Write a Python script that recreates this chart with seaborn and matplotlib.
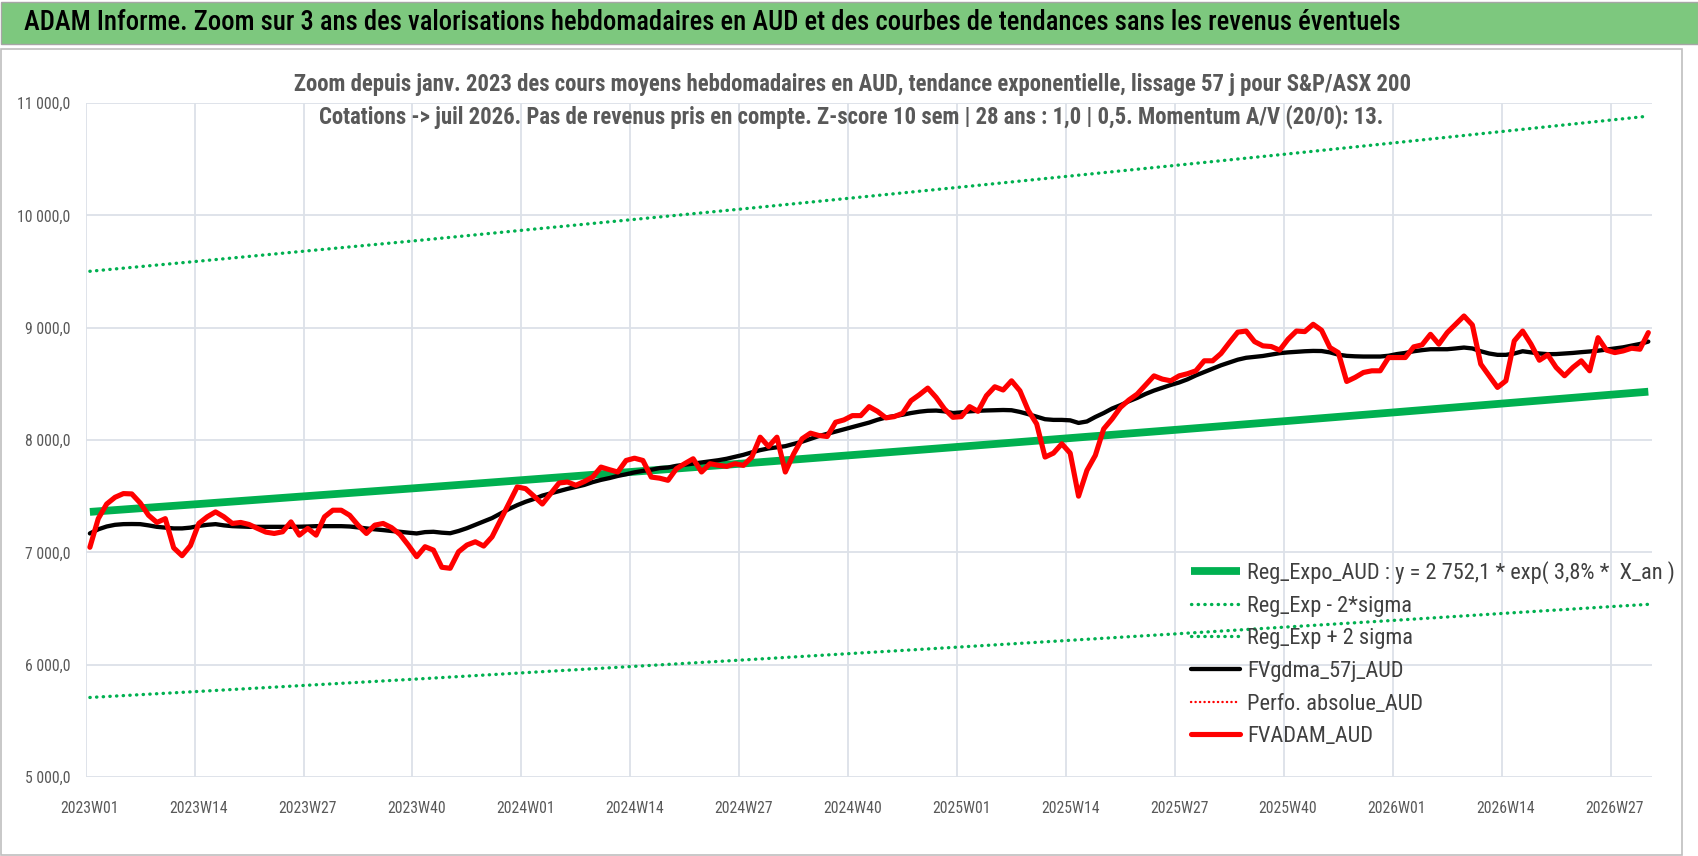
import numpy as np
import pandas as pd
import seaborn as sns
import matplotlib
matplotlib.use("Agg")
import matplotlib.pyplot as plt
from matplotlib import font_manager as fm
from matplotlib.patches import Rectangle
from matplotlib.ticker import FixedLocator, FuncFormatter

# ---------------- data ----------------
title = ("ADAM Informe. Zoom sur 3 ans des valorisations hebdomadaires en AUD "
         "et des courbes de tendances sans les revenus éventuels")
subtitle1 = ("Zoom depuis janv. 2023 des cours moyens hebdomadaires en AUD, "
             "tendance exponentielle, lissage 57 j pour S&P/ASX 200")
subtitle2 = ("Cotations -> juil 2026. Pas de revenus pris en compte. "
             "Z-score 10 sem | 28 ans : 1,0 | 0,5. Momentum A/V (20/0): 13.")

tick_labels = ["2023W01", "2023W14", "2023W27", "2023W40", "2024W01", "2024W14",
               "2024W27", "2024W40", "2025W01", "2025W14", "2025W27", "2025W40",
               "2026W01", "2026W14", "2026W27"]
tick_weeks = [0, 13, 26, 39, 52, 65, 78, 91, 104, 117, 130, 143, 156, 169, 182]

fvadam_aud = [
    7045, 7300, 7430, 7490, 7523, 7520, 7440, 7330, 7266, 7300,
    7040, 6970, 7060, 7257, 7316, 7360, 7316, 7257, 7266, 7248,
    7213, 7180, 7168, 7183, 7271, 7153, 7213, 7153, 7316, 7375,
    7375, 7330, 7242, 7168, 7242, 7257, 7220, 7160, 7065, 6961,
    7050, 7020, 6867, 6858, 7005, 7065, 7094, 7056, 7138, 7286,
    7434, 7582, 7567, 7500, 7430, 7523, 7617, 7626, 7597, 7630,
    7670, 7759, 7736, 7715, 7818, 7838, 7818, 7670, 7660, 7641,
    7744, 7790, 7833, 7715, 7789, 7775, 7765, 7789, 7774, 7848,
    8025, 7942, 8025, 7715, 7877, 8011, 8061, 8040, 8031, 8158,
    8179, 8217, 8217, 8297, 8255, 8197, 8208, 8238, 8350, 8403,
    8462, 8379, 8276, 8202, 8208, 8297, 8255, 8394, 8474, 8445,
    8527, 8438, 8262, 8143, 7848, 7883, 7966, 7883, 7500, 7730,
    7863, 8099, 8187, 8290, 8356, 8409, 8490, 8571, 8542, 8527,
    8571, 8590, 8616, 8705, 8705, 8770, 8867, 8960, 8970, 8876,
    8838, 8832, 8800, 8897, 8970, 8965, 9030, 8977, 8823, 8778,
    8521, 8557, 8601, 8616, 8616, 8734, 8734, 8734, 8829, 8847,
    8941, 8853, 8956, 9030, 9104, 9024, 8676, 8572, 8468, 8527,
    8882, 8970, 8853, 8710, 8758, 8646, 8572, 8646, 8705, 8616,
    8911, 8800, 8778, 8793, 8817, 8808, 8956]

fvgdma_57j_aud = [
    7168, 7205, 7230, 7245, 7251, 7252, 7251, 7240, 7227, 7220,
    7213, 7213, 7220, 7235, 7245, 7251, 7240, 7233, 7230, 7227,
    7227, 7227, 7227, 7227, 7227, 7228, 7230, 7233, 7233, 7233,
    7233, 7230, 7222, 7213, 7205, 7198, 7190, 7183, 7175, 7168,
    7180, 7183, 7175, 7170, 7190, 7215, 7245, 7275, 7305, 7345,
    7385, 7420, 7450, 7475, 7505, 7525, 7545, 7565, 7583, 7600,
    7625, 7645, 7661, 7680, 7695, 7712, 7725, 7735, 7750, 7755,
    7770, 7780, 7790, 7800, 7810, 7820, 7833, 7850, 7868, 7890,
    7910, 7925, 7935, 7945, 7965, 7985, 8010, 8035, 8055, 8075,
    8095, 8115, 8135, 8155, 8180, 8200, 8212, 8225, 8240, 8252,
    8260, 8262, 8255, 8240, 8246, 8255, 8260, 8263, 8265, 8267,
    8265, 8250, 8230, 8208, 8185, 8179, 8179, 8175, 8152, 8165,
    8205, 8240, 8280, 8310, 8345, 8375, 8410, 8440, 8465, 8490,
    8512, 8540, 8575, 8605, 8635, 8665, 8690, 8715, 8732, 8740,
    8748, 8760, 8773, 8780, 8785, 8790, 8793, 8792, 8780, 8760,
    8749, 8745, 8743, 8743, 8743, 8750, 8765, 8775, 8790, 8800,
    8808, 8808, 8808, 8815, 8823, 8815, 8790, 8770, 8758, 8758,
    8770, 8790, 8780, 8770, 8764, 8765, 8770, 8775, 8782, 8788,
    8795, 8805, 8815, 8825, 8840, 8855, 8876]

# trend curves read at every 13th week and at the last week
trend_weeks = [0, 13, 26, 39, 52, 65, 78, 91, 104, 117, 130, 143, 156, 169, 182, 186]
reg_expo_aud = [7360, 7430, 7501, 7572, 7645, 7718, 7791, 7866, 7941, 8017,
                8093, 8170, 8248, 8327, 8406, 8430]
reg_exp_minus_2sigma = [5708, 5762, 5817, 5872, 5929, 5985, 6042, 6100, 6158, 6217,
                        6276, 6336, 6396, 6458, 6519, 6537]
reg_exp_plus_2sigma = [9502, 9592, 9684, 9775, 9870, 9964, 10058, 10155, 10252, 10350,
                       10448, 10547, 10648, 10750, 10852, 10883]
perfo_absolue_aud = []  # present in legend only

labels = ["Reg_Expo_AUD : y = 2 752,1 * exp( 3,8% *  X_an )",
          "Reg_Exp - 2*sigma", "Reg_Exp + 2 sigma", "FVgdma_57j_AUD",
          "Perfo. absolue_AUD", "FVADAM_AUD"]

# ---------------- style ----------------
sns.set_theme(style="white")
names = {f.name for f in fm.fontManager.ttflist}
family = "DejaVu Sans"
for cand in ["Liberation Sans Narrow", "Roboto Condensed", "Open Sans Condensed",
             "Noto Sans Condensed", "DejaVu Sans Condensed", "Arial Narrow"]:
    if cand in names:
        family = cand
        break
plt.rcParams["font.family"] = [family, "DejaVu Sans"]
plt.rcParams["font.stretch"] = "condensed"

W, H = 1698, 856
fig = plt.figure(figsize=(W / 100, H / 100), dpi=100)
renderer = fig.canvas.get_renderer()


def size_for(text, width_px, weight="normal"):
    t = fig.text(0, 0, text, fontsize=10, weight=weight)
    w = t.get_window_extent(renderer).width
    t.remove()
    return 10 * width_px / w


GREEN = "#00B050"
RED = "#FF0000"
GRID = "#DCE1E8"
TXT = "#595959"

# frame around the chart and title bar
fig.patches.append(Rectangle((1 / W, 1 / H), 1681 / W, (H - 50) / H, transform=fig.transFigure,
                             facecolor="none", edgecolor="#BFBFBF", lw=1.2, zorder=-1))
fig.patches.append(Rectangle((0.5 / W, 1 - 44 / H), (W - 1) / W, 42 / H, transform=fig.transFigure,
                             facecolor="#7DC87E", edgecolor="#A6A6A6", lw=1.0, zorder=-1))

fs_title = size_for(title, 1370, weight="medium")
fig.text(24 / W, 1 - 23 / H, title, fontsize=fs_title, weight="medium", color="black",
         ha="left", va="center")
fs_sub = size_for(subtitle1, 1121, weight="bold")
fig.text(853 / W, 1 - 84 / H, subtitle1, fontsize=fs_sub, weight="bold", color=TXT,
         ha="center", va="center")
fig.text(851 / W, 1 - 117 / H, subtitle2, fontsize=fs_sub, weight="bold", color=TXT,
         ha="center", va="center")

left_px, right_px, top_px, bottom_px = 85.7, 1652.5, 103, 777
ax = fig.add_axes([left_px / W, (H - bottom_px) / H, (right_px - left_px) / W,
                   (bottom_px - top_px) / H])
ax.set_facecolor("none")

idx = list(range(len(fvadam_aud)))

sns.lineplot(x=trend_weeks, y=reg_expo_aud, ax=ax, color=GREEN, lw=5.6,
             label=labels[0], zorder=3, solid_capstyle="butt")
sns.lineplot(x=trend_weeks, y=reg_exp_minus_2sigma, ax=ax, color=GREEN, lw=2.4,
             linestyle=(0, (0.1, 1.9)), dash_capstyle="round", label=labels[1], zorder=3)
sns.lineplot(x=trend_weeks, y=reg_exp_plus_2sigma, ax=ax, color=GREEN, lw=2.4,
             linestyle=(0, (0.1, 1.9)), dash_capstyle="round", label=labels[2], zorder=3)
sns.lineplot(x=idx, y=fvgdma_57j_aud, ax=ax, color="black", lw=3.1,
             label=labels[3], zorder=4)
ax.plot(perfo_absolue_aud, perfo_absolue_aud, color=RED, lw=1.7,
        linestyle=(0, (0.1, 1.8)), dash_capstyle="round", label=labels[4])
sns.lineplot(x=idx, y=fvadam_aud, ax=ax, color=RED, lw=3.7,
             label=labels[5], zorder=5)

ax.set_xlim(-0.5, len(idx) - 0.5)
ax.set_ylim(5000, 11000)
ax.set_xlabel("")
ax.set_ylabel("")

# ticks and grid
ax.xaxis.set_major_locator(FixedLocator(tick_weeks))
ax.set_xticklabels(tick_labels)
ax.xaxis.set_minor_locator(FixedLocator([w - 0.5 for w in tick_weeks]))
ax.set_yticks(np.arange(5000, 11001, 1000))
ax.yaxis.set_major_formatter(FuncFormatter(
    lambda v, _: f"{v:,.1f}".replace(",", " ").replace(".", ",")))
ax.grid(False)
ax.grid(True, which="minor", axis="x", color=GRID, lw=1.3)
ax.grid(True, which="major", axis="y", color=GRID, lw=1.3)
for s in ax.spines.values():
    s.set_visible(False)
fs_tick = size_for("2023W01", 58)
ax.tick_params(axis="x", which="both", length=0, pad=17, labelsize=fs_tick, labelcolor=TXT)
ax.tick_params(axis="y", which="both", length=0, pad=11, labelsize=fs_tick, labelcolor=TXT)

# legend
fs_leg = size_for(labels[0], 425)
h, l = ax.get_legend_handles_labels()
order = [l.index(x) for x in labels]
leg = ax.legend([h[i] for i in order], [l[i] for i in order], loc="upper left",
                bbox_to_anchor=(1191 / W, (H - 561) / H), bbox_transform=fig.transFigure,
                frameon=False, fontsize=fs_leg, borderpad=0, borderaxespad=0,
                handlelength=2.2, handletextpad=0.3, labelspacing=0.52)
for t in leg.get_texts():
    t.set_color("#404040")

fig.savefig("out.png", dpi=100)
